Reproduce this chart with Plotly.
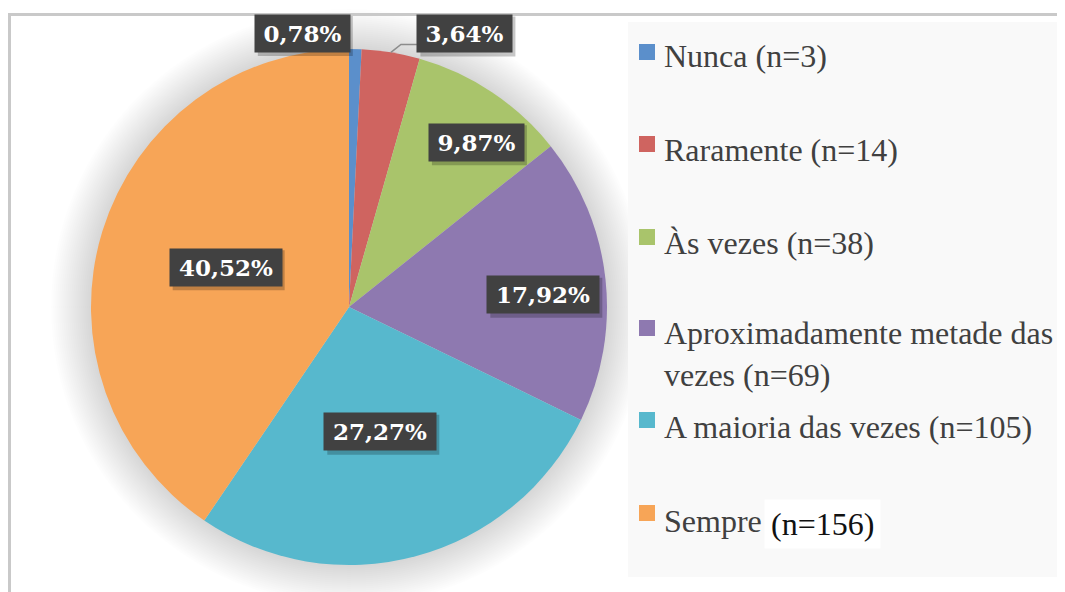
import math
import plotly.graph_objects as go

# ---- data ----
categories = ["Nunca", "Raramente", "Às vezes", "Aproximadamente metade das vezes",
              "A maioria das vezes", "Sempre"]
counts = [3, 14, 38, 69, 105, 156]
colors = ["#5B8FCB", "#CF6460", "#A9C46B", "#8E79B0", "#57B8CD", "#F7A557"]

# ---- geometry / style ----
VW, VH = 1065, 592          # browser window
OFF = 8                     # page body margin
W, H = VW - OFF, VH - OFF   # figure size
cx, cy, R = 349, 307, 258   # pie centre / radius in window pixels

# label placement: radial fraction of slice mid-angle + pixel shift (x, y-up)
label_frac = [1.0, 1.0, 0.8, 0.75, 0.5, 0.5]
label_shift = [(-53, 16), (74, 19), (13, -7), (2, -9), (-2, 0), (0, 2)]

# legend rows (window pixel y of marker centre, text centre)
legend_marker_y = [52, 144, 237, 328, 420, 513]
legend_text_y = [56, 150, 243, 354, 427, 521]


def px(x, y):
    """window pixel -> paper coordinates"""
    return (x - OFF) / W, (H - (y - OFF)) / H


total = sum(counts)
pcts = [100 * c / total for c in counts]
pct_text = [f"{p:.2f}".replace(".", ",") + "%" for p in pcts]

d0 = px(cx - R, cy + R)
d1 = px(cx + R, cy - R)
fig = go.Figure()
fig.add_trace(go.Pie(
    labels=categories,
    values=counts,
    sort=False,
    direction="clockwise",
    rotation=0,
    marker=dict(colors=colors, line=dict(width=0)),
    textinfo="none",
    hoverinfo="label+value+percent",
    showlegend=False,
    domain=dict(x=[d0[0], d1[0]], y=[d0[1], d1[1]]),
))

shapes = []
# soft halo around the pie
for k in range(20):
    r = R + 2 + 2 * k
    x0, y0 = px(cx - r, cy + r)
    x1, y1 = px(cx + r, cy - r)
    shapes.append(dict(type="circle", xref="paper", yref="paper", x0=x0, y0=y0, x1=x1, y1=y1,
                       fillcolor="rgba(0,0,0,0.006)", line=dict(width=0), layer="below"))
# legend background
lx0, ly0 = px(628, 577)
lx1, ly1 = px(1059, 22)
shapes.append(dict(type="rect", xref="paper", yref="paper", x0=lx0, y0=ly0, x1=lx1, y1=ly1,
                   fillcolor="#F9F9F9", line=dict(width=0), layer="below"))
# frame lines
fa = px(9.5, VH + 5)
fb = px(9.5, 14.5)
fc = px(VW + 5, 14.5)
shapes.append(dict(type="path", xref="paper", yref="paper",
                   path=f"M {fa[0]},{fa[1]} L {fb[0]},{fb[1]} L {fc[0]},{fc[1]}",
                   line=dict(color="#C9C9C9", width=3)))

annotations = []
cum = 0
for i, c in enumerate(counts):
    mid = (cum + c / 2) / total * 2 * math.pi
    cum += c
    f = label_frac[i]
    x = cx + f * R * math.sin(mid)
    y = cy - f * R * math.cos(mid)
    sx, sy = label_shift[i]
    if i == 1:
        # leader line from slice edge to the label box
        ex, ey = cx + R * math.sin(mid), cy - R * math.cos(mid)
        p0 = px(ex, ey)
        p1 = px(ex + 10, ey - 8)
        p2 = px(ex + 26, ey - 8)
        shapes.append(dict(type="path", xref="paper", yref="paper",
                           path=f"M {p0[0]},{p0[1]} L {p1[0]},{p1[1]} L {p2[0]},{p2[1]}",
                           line=dict(color="#8C8C8C", width=1.5)))
    ax, ay = px(x, y)
    bw = 17 * len(pct_text[i])
    # drop shadow box (pixel-sized, anchored at label position)
    hw, hh = bw / 2 + 5, 20
    shapes.append(dict(type="rect", xref="paper", yref="paper",
                       xsizemode="pixel", ysizemode="pixel", xanchor=ax, yanchor=ay,
                       x0=sx - hw + 3, x1=sx + hw + 3, y0=sy - hh - 3, y1=sy + hh - 3,
                       fillcolor="rgba(0,0,0,0.22)", line=dict(width=0)))
    annotations.append(dict(x=ax, y=ay, xref="paper", yref="paper",
                            text="<b>" + pct_text[i] + "</b>", showarrow=False,
                            xanchor="center", yanchor="middle", width=bw, borderpad=5,
                            xshift=sx, yshift=sy,
                            font=dict(family="DejaVu Serif", size=23, color="white"),
                            bgcolor="#414141"))

# legend (drawn manually to match the spacing)
for i, cat in enumerate(categories):
    my = legend_marker_y[i]
    a0 = px(639, my + 8)
    a1 = px(655, my - 8)
    shapes.append(dict(type="rect", xref="paper", yref="paper", x0=a0[0], y0=a0[1], x1=a1[0], y1=a1[1],
                       fillcolor=colors[i], line=dict(width=0)))
    ty = legend_text_y[i]
    if i == 3:
        text = "Aproximadamente metade das<br>vezes (n=%d)" % counts[i]
    elif i == len(categories) - 1:
        text = cat
    else:
        text = f"{cat} (n={counts[i]})"
    tx, tyy = px(662, ty)
    annotations.append(dict(x=tx, y=tyy, xref="paper", yref="paper", text=text, showarrow=False,
                            xanchor="left", yanchor="middle", align="left",
                            font=dict(family="Liberation Serif", size=32, color="#404040")))
    if i == len(categories) - 1:
        nx, ny = px(764, 524)
        annotations.append(dict(x=nx, y=ny, xref="paper", yref="paper", text=f"(n={counts[i]})",
                                showarrow=False, xanchor="left", yanchor="middle",
                                bgcolor="white", borderpad=6,
                                font=dict(family="Liberation Serif", size=32, color="#111111")))

fig.update_layout(
    width=W, height=H, autosize=False,
    margin=dict(l=0, r=0, t=0, b=0),
    paper_bgcolor="white", plot_bgcolor="white",
    shapes=shapes, annotations=annotations,
    showlegend=False,
)

fig.write_html("out.html")
